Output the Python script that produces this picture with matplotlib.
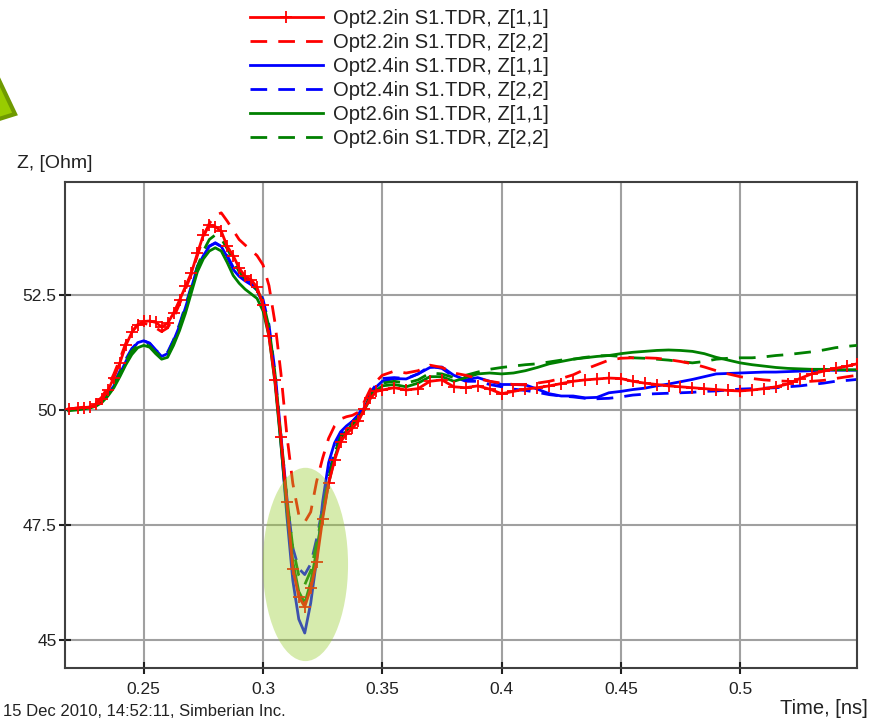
import numpy as np
import matplotlib
matplotlib.use("Agg")
import matplotlib.pyplot as plt
from matplotlib.patches import Ellipse, Polygon

plt.rcParams['font.family'] = ['Liberation Sans', 'DejaVu Sans']

# ---- sample times (ns) ----
t_early = np.round(np.arange(0.22, 0.35001, 0.0025), 4)
t_early[0] = 0.2185
t_late = np.append(np.round(np.arange(0.355, 0.54501, 0.005), 4), 0.549)

# ---- series values (Ohm) ----
r11_early = [50.02, 50.04, 50.05, 50.06, 50.12, 50.23, 50.42, 50.70, 51.02, 51.40,
             51.68, 51.85, 51.92, 51.93, 51.90, 51.80, 51.88, 52.10, 52.38, 52.68,
             52.98, 53.40, 53.80, 54.02, 53.98, 53.88, 53.55, 53.35, 53.08, 52.90,
             52.83, 52.66, 52.28, 51.60, 50.65, 49.40, 48.00, 46.55, 45.94, 45.72,
             46.12, 46.70, 47.63, 48.40, 48.90, 49.30, 49.48, 49.60, 49.75, 50.02,
             50.25, 50.40, 50.43]
r11_late = [50.48, 50.43, 50.46, 50.62, 50.65, 50.50, 50.48, 50.52, 50.45, 50.35,
            50.40, 50.45, 50.48, 50.52, 50.57, 50.62, 50.65, 50.67, 50.69, 50.68,
            50.62, 50.58, 50.55, 50.52, 50.50, 50.48, 50.46, 50.44, 50.42, 50.41,
            50.43, 50.46, 50.50, 50.56, 50.68, 50.78, 50.84, 50.90, 50.95, 51.00]

r22_early = [50.02, 50.04, 50.06, 50.08, 50.15, 50.28, 50.50, 50.78, 51.10, 51.45,
             51.70, 51.85, 51.88, 51.85, 51.78, 51.70, 51.78, 52.00, 52.30, 52.62,
             52.95, 53.35, 53.75, 54.05, 54.22, 54.28, 54.10, 53.90, 53.70, 53.58,
             53.47, 53.35, 53.15, 52.70, 51.90, 50.80, 49.45, 48.40, 47.72, 47.56,
             47.78, 48.45, 48.95, 49.38, 49.65, 49.80, 49.85, 49.88, 49.95, 50.18,
             50.45, 50.62, 50.75]
r22_late = [50.84, 50.80, 50.85, 50.97, 50.92, 50.80, 50.75, 50.68, 50.62, 50.58,
            50.55, 50.55, 50.58, 50.62, 50.68, 50.76, 50.88, 50.98, 51.08, 51.12,
            51.13, 51.13, 51.12, 51.09, 51.05, 51.00, 50.93, 50.85, 50.78, 50.72,
            50.68, 50.65, 50.63, 50.62, 50.61, 50.62, 50.64, 50.68, 50.72, 50.75]

b11_early = [50.00, 50.02, 50.04, 50.06, 50.10, 50.20, 50.34, 50.52, 50.78, 51.05,
             51.30, 51.46, 51.50, 51.45, 51.30, 51.16, 51.22, 51.50, 51.82, 52.22,
             52.65, 53.10, 53.35, 53.55, 53.63, 53.55, 53.32, 53.05, 52.90, 52.80,
             52.72, 52.60, 52.30, 51.72, 50.70, 49.30, 47.70, 46.29, 45.45, 45.15,
             45.80, 46.75, 48.00, 48.85, 49.28, 49.52, 49.65, 49.75, 49.85, 50.05,
             50.30, 50.50, 50.62]
b11_late = [50.68, 50.67, 50.78, 50.92, 50.93, 50.75, 50.65, 50.70, 50.62, 50.55,
            50.55, 50.54, 50.45, 50.35, 50.30, 50.30, 50.26, 50.27, 50.37, 50.40,
            50.44, 50.47, 50.52, 50.56, 50.61, 50.66, 50.72, 50.78, 50.79, 50.80,
            50.81, 50.82, 50.82, 50.83, 50.84, 50.85, 50.86, 50.86, 50.86, 50.86]

b22_early = [50.00, 50.03, 50.05, 50.08, 50.13, 50.24, 50.38, 50.58, 50.84, 51.10,
             51.33, 51.47, 51.50, 51.44, 51.30, 51.18, 51.25, 51.52, 51.86, 52.26,
             52.70, 53.12, 53.38, 53.56, 53.62, 53.55, 53.35, 53.10, 52.95, 52.86,
             52.78, 52.66, 52.40, 51.85, 50.85, 49.45, 48.10, 47.00, 46.55, 46.42,
             46.65, 47.20, 47.88, 48.60, 49.10, 49.45, 49.62, 49.75, 49.90, 50.12,
             50.38, 50.55, 50.68]
b22_late = [50.70, 50.68, 50.78, 50.95, 50.90, 50.72, 50.62, 50.62, 50.55, 50.50,
            50.45, 50.42, 50.38, 50.33, 50.30, 50.28, 50.25, 50.24, 50.25, 50.28,
            50.32, 50.34, 50.35, 50.36, 50.37, 50.38, 50.40, 50.41, 50.43, 50.45,
            50.46, 50.47, 50.48, 50.50, 50.52, 50.55, 50.58, 50.62, 50.64, 50.66]

g11_early = [49.98, 50.00, 50.02, 50.04, 50.08, 50.16, 50.30, 50.48, 50.72, 50.98,
             51.20, 51.35, 51.40, 51.36, 51.22, 51.10, 51.14, 51.40, 51.72, 52.10,
             52.55, 53.00, 53.28, 53.45, 53.52, 53.45, 53.20, 52.92, 52.75, 52.62,
             52.52, 52.42, 52.15, 51.60, 50.60, 49.25, 47.85, 46.70, 46.05, 45.80,
             46.25, 46.95, 47.70, 48.40, 48.95, 49.35, 49.55, 49.68, 49.80, 50.00,
             50.25, 50.42, 50.52]
g11_late = [50.55, 50.50, 50.58, 50.72, 50.72, 50.62, 50.70, 50.78, 50.80, 50.78,
            50.80, 50.85, 50.92, 51.00, 51.05, 51.10, 51.13, 51.16, 51.18, 51.22,
            51.25, 51.27, 51.29, 51.30, 51.29, 51.27, 51.22, 51.14, 51.08, 51.02,
            50.98, 50.95, 50.92, 50.90, 50.89, 50.88, 50.88, 50.87, 50.87, 50.87]

g22_early = [50.00, 50.02, 50.04, 50.06, 50.10, 50.20, 50.35, 50.55, 50.80, 51.06,
             51.28, 51.40, 51.44, 51.38, 51.25, 51.14, 51.20, 51.46, 51.80, 52.20,
             52.65, 53.10, 53.45, 53.70, 53.80, 53.72, 53.50, 53.25, 53.00, 52.85,
             52.75, 52.60, 52.35, 51.80, 50.80, 49.45, 48.10, 47.00, 46.40, 46.20,
             46.50, 47.10, 47.80, 48.50, 49.05, 49.40, 49.58, 49.70, 49.82, 50.02,
             50.30, 50.48, 50.58]
g22_late = [50.62, 50.58, 50.65, 50.80, 50.78, 50.70, 50.75, 50.82, 50.88, 50.92,
            50.95, 50.98, 51.00, 51.04, 51.08, 51.10, 51.14, 51.17, 51.18, 51.16,
            51.13, 51.12, 51.10, 51.08, 51.05, 51.02, 51.05, 51.10, 51.12, 51.13,
            51.13, 51.15, 51.18, 51.20, 51.23, 51.26, 51.30, 51.35, 51.38, 51.40]

labels = ["Opt2.2in S1.TDR, Z[1,1]", "Opt2.2in S1.TDR, Z[2,2]",
          "Opt2.4in S1.TDR, Z[1,1]", "Opt2.4in S1.TDR, Z[2,2]",
          "Opt2.6in S1.TDR, Z[1,1]", "Opt2.6in S1.TDR, Z[2,2]"]
x_ticks = [0.25, 0.3, 0.35, 0.4, 0.45, 0.5]
x_ticklabels = ["0.25", "0.3", "0.35", "0.4", "0.45", "0.5"]
y_ticks = [45, 47.5, 50, 52.5]
y_ticklabels = ["45", "47.5", "50", "52.5"]

t = np.concatenate([t_early, t_late])
def full(a, b):
    return np.array(a + b)

W, H = 877, 721
fig = plt.figure(figsize=(W / 100, H / 100), dpi=100)
ax = fig.add_axes([65 / W, 1 - 668 / H, (857 - 65) / W, (668 - 182) / H])

lw = 2.0
dash = (6, 4)
lb22, = ax.plot(t, full(b22_early, b22_late), color='#0000ff', lw=lw, dashes=dash, zorder=2)
lb11, = ax.plot(t, full(b11_early, b11_late), color='#0000ff', lw=lw, zorder=2)
lg22, = ax.plot(t, full(g22_early, g22_late), color='#008000', lw=lw, dashes=dash, zorder=3)
lg11, = ax.plot(t, full(g11_early, g11_late), color='#008000', lw=lw, zorder=3)
lr22, = ax.plot(t, full(r22_early, r22_late), color='#ff0000', lw=lw, dashes=dash, zorder=4)
lr11, = ax.plot(t, full(r11_early, r11_late), color='#ff0000', lw=lw, marker='+',
                markersize=8, markeredgewidth=1.3, zorder=4)

ell = Ellipse((0.3178, 46.64), 0.0357, 4.2, facecolor='#9acd32', alpha=0.4,
              edgecolor='none', zorder=6)
ax.add_patch(ell)

ax.set_xlim(0.217, 0.549)
ax.set_ylim(44.39, 54.95)
ax.set_xticks(x_ticks)
ax.set_xticklabels(x_ticklabels)
ax.set_yticks(y_ticks)
ax.set_yticklabels(y_ticklabels)
ax.grid(True, color='#a0a0a0', lw=1.5)
ax.set_axisbelow(True)
for s in ax.spines.values():
    s.set_color('#404040')
    s.set_linewidth(1.5)
ax.tick_params(axis='both', direction='inout', length=8, width=1.5, color='#202020',
               labelsize=12.5, labelcolor='#222222')
ax.tick_params(axis='x', pad=6)
ax.tick_params(axis='y', pad=2)

handles = [lr11, lr22, lb11, lb22, lg11, lg22]
leg = fig.legend(handles, labels, loc='upper left', bbox_to_anchor=(250 / W, 1 - 9 / H),
                 frameon=False, fontsize=14.5, handlelength=3.6, handletextpad=0.5,
                 labelspacing=0.25, borderpad=0, borderaxespad=0, numpoints=1)
for txt in leg.get_texts():
    txt.set_color('#222222')

fig.text(17 / W, 1 - 164 / H, "Z, [Ohm]", ha='left', va='center', fontsize=14, color='#222222')
fig.text(868 / W, 1 - 708 / H, "Time, [ns]", ha='right', va='center', fontsize=14.5, color='#222222')
fig.text(3 / W, 1 - 712 / H, "15 Dec 2010, 14:52:11, Simberian Inc.", ha='left', va='center',
         fontsize=12, color='#222222')

verts = [(-20 / W, 1 - 40 / H), (15 / W, 1 - 114 / H), (-20 / W, 1 - 125 / H)]
arrow = Polygon(verts, closed=True, transform=fig.transFigure, facecolor='#99cc00',
                edgecolor='#6f9a00', lw=3, clip_on=False)
fig.patches.append(arrow)

fig.savefig("out.png", dpi=100)
